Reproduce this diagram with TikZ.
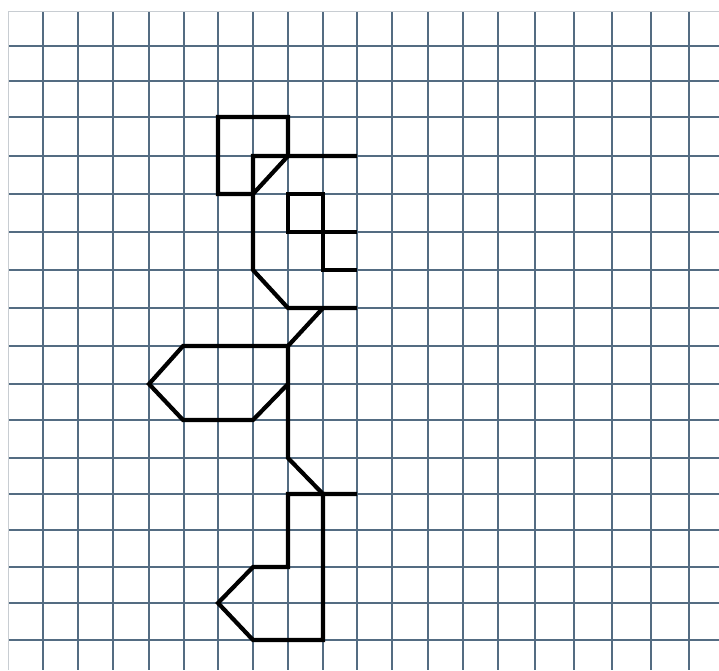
\documentclass[tikz,border=0pt]{standalone}
\definecolor{gridblue}{RGB}{84,108,130}
\definecolor{gridedge}{RGB}{200,205,210}
\tikzset{gridline/.style={gridblue, line width=1.3pt}, edgeline/.style={gridedge, line width=1pt}, figline/.style={black, line width=4.2pt, line join=miter}}
\begin{document}
\begin{tikzpicture}[x=1pt, y=-1pt]
\useasboundingbox (0,0) rectangle (719,670);
\fill[white] (0,0) rectangle (719,670);
\foreach \gx in {43,78,113,149,184,218,253,288,323,357,392,428,463,498,535,574,612,651,689}
  \draw[gridline] (\gx,11) -- (\gx,670);
\foreach \gy in {46,81,117,156,194,232,270,308,346,384,420,458,494,530,567,603,640}
  \draw[gridline] (8,\gy) -- (719,\gy);
\draw[edgeline] (8,670) -- (8,11) -- (719,11);
\draw[figline] (218,194) -- (218,117) -- (288,117) -- (288,156) -- (253,194) -- cycle;
\draw[figline] (357,156) -- (253,156) -- (253,270) -- (288,308) -- (357,308);
\draw[figline] (357,232) -- (288,232) -- (288,194) -- (323,194) -- (323,270) -- (357,270);
\draw[figline] (323,308) -- (288,346) -- (288,458) -- (323,494) -- (357,494);
\draw[figline] (288,346) -- (183,346) -- (149,384) -- (183,420) -- (253,420) -- (288,384);
\draw[figline] (288,494) -- (323,494) -- (323,640) -- (253,640) -- (218,603) -- (253,567) -- (288,567) -- cycle;
\end{tikzpicture}
\end{document}
